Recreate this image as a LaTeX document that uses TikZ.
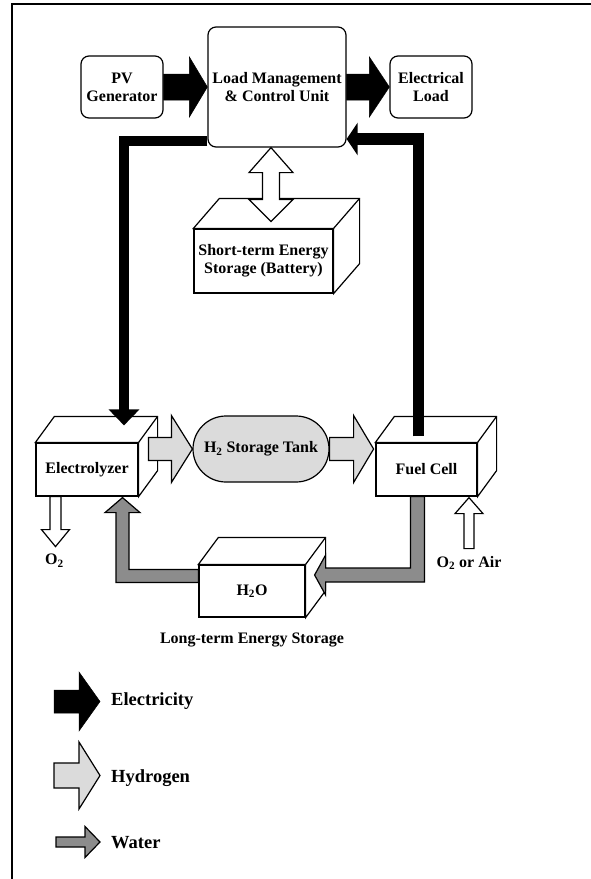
\documentclass[tikz,border=0pt]{standalone}
\usepackage{fontspec}
\setmainfont{Liberation Serif}
\usepackage{xcolor}
\usepackage{tikz}
\usetikzlibrary{calc,arrows.meta,positioning}
\definecolor{hydro}{gray}{0.86}
\definecolor{water}{gray}{0.55}
% 粗箭头: 样式, 起点, 终点, 箭杆半宽, 箭头半宽, 箭头长
\newcommand{\flowarrow}[6][]{%
  \coordinate (fah) at ($(#3)!#6!(#2)$);
  \draw[#1] ($(#2)!#4!90:(#3)$) -- ($(fah)!#4!-90:(#2)$) -- ($(fah)!#5!-90:(#2)$)
    -- (#3) -- ($(fah)!#5!90:(#2)$) -- ($(fah)!#4!90:(#2)$) -- ($(#2)!#4!-90:(#3)$) -- cycle;}
% 立体盒子: 正面节点, 深度偏移
\newcommand{\solidbox}[3]{%
  \draw[boxline] (#1.north west) -- ++(#2,#3) -- ($(#1.north east)+(#2,#3)$)
    -- ($(#1.south east)+(#2,#3)$) -- (#1.south east) -- (#1.north east) -- cycle;
  \draw[boxline] (#1.north east) -- ++(#2,#3);}

\begin{document}
\begin{tikzpicture}[x=1pt, y=-1pt,
  font=\bfseries\fontsize{16}{18}\selectfont,
  rbox/.style={draw, line width=1.2pt, fill=white, rounded corners=8pt, align=center, inner sep=0pt},
  face/.style={draw, line width=1.2pt, fill=white, align=center, inner sep=0pt},
  boxline/.style={draw, line width=1.2pt, fill=white},
  elec/.style={draw=black, fill=black, line width=0.5pt},
  hyd/.style={draw, line width=1.2pt, fill=hydro},
  wat/.style={draw, line width=1.2pt, fill=water},
  oxy/.style={draw, line width=1.2pt, fill=white},
  wire/.style={line width=10.5pt, line join=miter},
  legend/.style={anchor=west, inner sep=0pt, font=\bfseries\fontsize{18.5}{20}\selectfont}]
\useasboundingbox (0,0) rectangle (591,879);
% 外框
\draw[line width=2.4pt] (12,879) -- (12,4) -- (591,4);
% 上排方框
\node[rbox, minimum width=82pt, minimum height=62pt] (pv) at (122,87) {PV\\Generator};
\node[rbox, minimum width=138pt, minimum height=120pt] (lm) at (277,87) {Load Management\\\& Control Unit};
\node[rbox, minimum width=82pt, minimum height=62pt] (load) at (431,87) {Electrical\\Load};
% 电池
\node[face, minimum width=139pt, minimum height=64pt] (bat) at (263.5,261) {Short-term Energy\\Storage (Battery)};
\solidbox{bat}{26}{-30}
% 电解槽, 燃料电池, 水
\node[face, minimum width=102pt, minimum height=53pt] (el) at (87,469.5) {Electrolyzer};
\solidbox{el}{19}{-26}
\node[face, minimum width=101pt, minimum height=53pt] (fc) at (426.5,469.5) {Fuel Cell};
\solidbox{fc}{19}{-26}
\node[face, minimum width=106pt, minimum height=52pt] (h2o) at (252,591) {H\textsubscript{2}O};
\solidbox{h2o}{20}{-27}
\node[below=12pt of h2o] (lts) {Long-term Energy Storage};
% 储氢罐
\node[draw, line width=1.2pt, fill=hydro, rounded corners=33pt, minimum width=136pt, minimum height=66pt, inner sep=0pt] (tank) at (261,449) {H\textsubscript{2} Storage Tank};
% 电力
\flowarrow[elec]{pv.east}{lm.west}{13pt}{30pt}{18pt}
\flowarrow[elec]{lm.east}{load.west}{13pt}{30pt}{20pt}
\draw[wire, -{Triangle[width=30pt,length=16pt]}] ($(lm.west)+(0,54)$) -| ($(el.north)+(37,-17)$);
\draw[wire, line width=11.5pt, -{Triangle[width=32pt,length=11pt]}] ($(fc.north)+(-8,-6)$) |- ($(lm.east)+(0,52)$);
% 电池双向箭头
\coordinate (dt) at ($(lm.south)+(-6,0)$);
\coordinate (db) at ($(bat.north)+(7.5,-7)$);
\draw[oxy] (dt) -- ($(dt)+(22,25)$) -- ($(dt)+(8.5,25)$) -- ($(db)+(8.5,-22)$) -- ($(db)+(22,-22)$)
  -- (db) -- ($(db)+(-22,-22)$) -- ($(db)+(-8.5,-22)$) -- ($(dt)+(-8.5,25)$) -- ($(dt)+(-22,25)$) -- cycle;
% 氢气
\coordinate (h1) at ($(tank.west)+(-44,0)$);
\coordinate (h2) at ($(tank.east)+(44,0)$);
\flowarrow[hyd]{h1}{tank.west}{11.5pt}{33.5pt}{21pt}
\flowarrow[hyd]{tank.east}{h2}{11.5pt}{33.5pt}{20pt}
% 水
\coordinate (w1s) at ($(fc.south)+(-9,0)$);
\coordinate (w1e) at ($(h2o.east)+(9,-16)$);
\draw[wat] ($(w1s)+(-7,0)$) |- ($(w1e)+(11,-7)$) -- ($(w1e)+(11,-20)$) -- (w1e)
  -- ($(w1e)+(11,20)$) -- ($(w1e)+(11,7)$) -| ($(w1s)+(7,0)$) -- cycle;
\coordinate (w2s) at ($(h2o.west)+(0,-15)$);
\coordinate (w2e) at ($(el.south)+(35.5,1)$);
\draw[wat] ($(w2s)+(0,-6.5)$) -| ($(w2e)+(6.5,15)$) -- ($(w2e)+(17.5,15)$) -- (w2e)
  -- ($(w2e)+(-17.5,15)$) -- ($(w2e)+(-6.5,15)$) |- ($(w2s)+(0,6.5)$) -- cycle;
% 氧气
\coordinate (o2s) at ($(el.south)+(-31.5,0)$);
\coordinate (o2e) at ($(o2s)+(0,50)$);
\flowarrow[oxy]{o2s}{o2e}{5.5pt}{14pt}{17pt}
\node[anchor=north] (o2) at ($(o2e)+(-1,4)$) {O\textsubscript{2}};
\coordinate (ais) at ($(fc.south)+(42.5,52)$);
\coordinate (aie) at ($(fc.south)+(42.5,1)$);
\flowarrow[oxy]{ais}{aie}{5pt}{14pt}{16pt}
\node[anchor=north] (air) at ($(ais)+(0,4)$) {O\textsubscript{2} or Air};
% 图例
\node[legend] (lel) at (111,701) {Electricity};
\node[legend] (lhy) at (111,778) {Hydrogen};
\node[legend] (lwa) at (111,842.5) {Water};
\coordinate (le1) at ($(lel.west)+(-57,0.5)$);
\coordinate (le2) at ($(lel.west)+(-11,0.5)$);
\flowarrow[elec]{le1}{le2}{11.5pt}{29.5pt}{21pt}
\coordinate (lh1) at ($(lhy.west)+(-57,-2.5)$);
\coordinate (lh2) at ($(lhy.west)+(-11,-2.5)$);
\flowarrow[hyd]{lh1}{lh2}{12.5pt}{33.5pt}{21pt}
\coordinate (lw1) at ($(lwa.west)+(-55,-0.5)$);
\coordinate (lw2) at ($(lwa.west)+(-11,-0.5)$);
\flowarrow[wat]{lw1}{lw2}{5pt}{15.5pt}{15pt}
\end{tikzpicture}
\end{document}
